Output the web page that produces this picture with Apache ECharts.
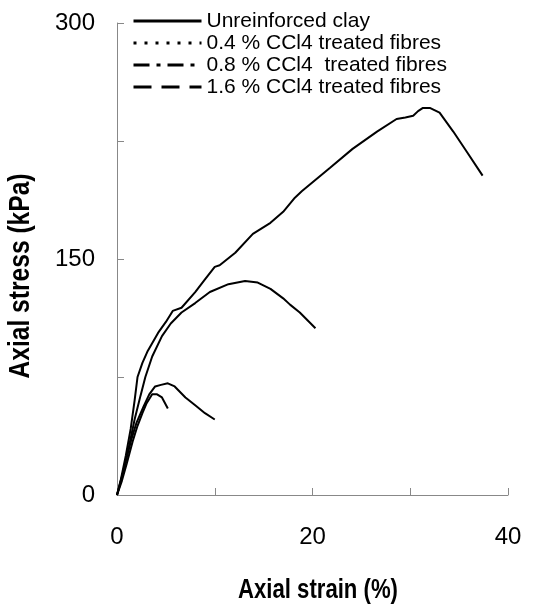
<!DOCTYPE html>
<html>
<head>
<meta charset="utf-8">
<script src="https://cdn.jsdelivr.net/npm/echarts@6/dist/echarts.min.js"></script>
<style>
html,body{margin:0;padding:0;background:#fff;}
#chart{width:533px;height:608px;}
</style>
</head>
<body>
<div id="chart"></div>
<script>
var seriesNames = ['Unreinforced clay', '0.4 % CCl4 treated fibres', '0.8 % CCl4  treated fibres', '1.6 % CCl4 treated fibres'];
var legendDash = ['solid', [3, 8], [16, 7, 4, 7], [18, 10]];
var xTicks = [0, 20, 40];
var yTicks = [0, 150, 300];

// [strain %, stress kPa]
var unreinforced = [[0,0],[0.4,10],[0.9,25],[1.4,42],[1.8,60],[2.1,75],[2.6,84],[3.1,91],[4.2,103],[5.0,110],[5.7,117],[6.6,119],[8.0,129],[9.0,137],[10.0,145],[10.5,146],[12.1,154],[13.9,166],[15.7,173],[17.0,180],[18.2,189],[18.9,193],[21.8,208],[24.1,220],[26.6,231],[28.6,239],[29.5,240],[30.3,241],[30.8,244],[31.3,246],[32.0,246],[33.0,243],[34.4,231],[35.8,218],[37.4,203]];
var fib04 = [[0,0],[0.5,9],[1.0,20],[1.6,34],[2.1,44],[2.6,52],[3.0,58],[3.6,64],[4.1,64],[4.6,62],[5.2,55]];
var fib08 = [[0,0],[0.5,11],[1.0,24],[1.5,36],[2.0,46],[2.7,56],[3.3,64],[3.9,69],[4.5,70],[5.2,71],[5.9,69],[7.0,62],[8.0,57],[9.0,52],[10.0,48]];
var fib16 = [[0,0],[0.6,14],[1.2,30],[1.8,48],[2.4,63],[2.9,75],[3.6,88],[4.6,101],[5.5,109],[6.6,116],[8.0,122],[9.5,129],[11.4,134],[13.1,136],[14.4,135],[15.7,131],[17.0,125],[17.7,121],[18.7,116],[20.3,106]];
var allData = [unreinforced, fib04, fib08, fib16];

var FONT = "'Liberation Sans', Arial, sans-serif";

var chart = echarts.init(document.getElementById('chart'), null, {renderer: 'canvas'});
var option = {
  backgroundColor: '#fff',
  animation: false,
  color: ['#000', '#000', '#000', '#000'],
  grid: {left: 117, right: 25, top: 23, bottom: 113},
  legend: {
    orient: 'vertical', left: 132, top: 10, itemGap: 0, padding: 0,
    itemWidth: 68, itemHeight: 22,
    textStyle: {fontFamily: FONT, fontSize: 21, color: '#000', lineHeight: 22},
    data: seriesNames.map(function (n, i) {
      return {name: n, lineStyle: {type: legendDash[i], width: 3, color: '#000'}, itemStyle: {opacity: 0}};
    })
  },
  xAxis: {
    type: 'value', min: 0, max: 40, interval: 10,
    axisLine: {show: true, onZero: false, lineStyle: {color: '#888', width: 1}},
    axisTick: {show: true, inside: true, length: 7, lineStyle: {color: '#888'}},
    splitLine: {show: false},
    axisLabel: {fontFamily: FONT, fontSize: 24, color: '#000', margin: 30,
      formatter: function (v) { return xTicks.indexOf(v) >= 0 ? String(v) : ''; }}
  },
  yAxis: {
    type: 'value', min: 0, max: 300, interval: 75,
    axisLine: {show: true, onZero: false, lineStyle: {color: '#888', width: 1}},
    axisTick: {show: true, inside: true, length: 7, lineStyle: {color: '#888'}},
    splitLine: {show: false},
    axisLabel: {fontFamily: FONT, fontSize: 24, color: '#000', margin: 22,
      formatter: function (v) { return yTicks.indexOf(v) >= 0 ? String(v) : ''; }}
  },
  graphic: [
    {type: 'text', x: 318, y: 591, scaleX: 0.82, style: {text: 'Axial strain (%)', x: 0, y: 0, textAlign: 'center', textVerticalAlign: 'middle', font: "bold 27px " + FONT, fill: '#000'}},
    {type: 'text', rotation: Math.PI / 2, x: 21, y: 276, scaleX: 0.82, style: {text: 'Axial stress (kPa)', x: 0, y: 0, textAlign: 'center', textVerticalAlign: 'middle', font: "bold 30px " + FONT, fill: '#000'}}
  ],
  series: allData.map(function (d, i) {
    return {
      name: seriesNames[i], type: 'line', data: d, showSymbol: false, symbol: 'none',
      itemStyle: {color: '#000'},
      lineStyle: {color: '#000', width: 2, type: 'solid'}, smooth: false
    };
  })
};
chart.setOption(option);
</script>
</body>
</html>
